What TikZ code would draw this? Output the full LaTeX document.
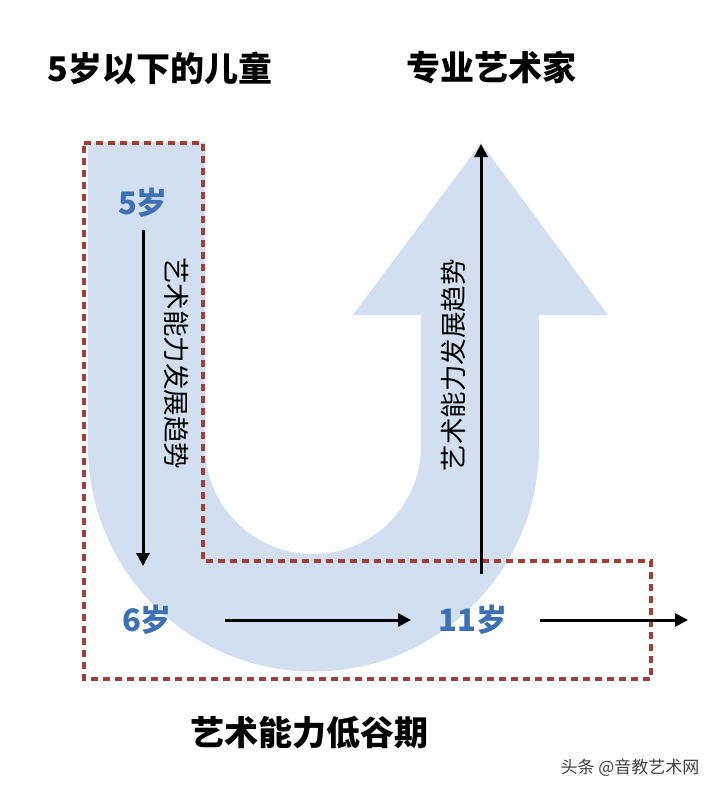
\documentclass[tikz,border=0pt]{standalone}
\usepackage{fontspec}
\setmainfont{Noto Sans CJK SC}
\usetikzlibrary{arrows.meta}
\definecolor{ushape}{RGB}{209,223,240}
\definecolor{agetext}{RGB}{62,112,182}
\definecolor{boxred}{RGB}{160,62,58}

\begin{document}
\begin{tikzpicture}[x=1pt,y=-1pt,
    trend/.style={line width=3pt,-{Triangle[length=13pt,width=13pt]}},
    age/.style={font=\fontsize{31}{31}\selectfont\bfseries,text=agetext},
    title/.style={font=\fontsize{34}{34}\selectfont\bfseries},
    side/.style={font=\fontsize{26.5}{26.5}\selectfont}]

  \useasboundingbox (0,0) rectangle (720,795);

  % U shaped arrow
  \fill[ushape] (88,142) -- (205,142) -- (205,446)
    arc[start angle=180,end angle=0,radius=108]
    -- (421,315) -- (353,315) -- (481,143) -- (608,315) -- (539,315) -- (539,446)
    arc[start angle=0,end angle=180,radius=225.5] -- cycle;

  % dashed frame
  \draw[boxred,line width=3.5pt,dash pattern=on 7pt off 5pt]
    (84,143) -- (203,143) -- (203,561) -- (651,561) -- (651,679) -- (84,679) -- cycle;

  \node[title] (kids)   at (160,68)  {5岁以下的儿童};
  \node[title] (artist) at (491,68)  {专业艺术家};
  \node[title] (trough) at (309,733) {艺术能力低谷期};

  \begin{scope}[every node/.style={age}]
    \node (five)   at (143,203) {5岁};
    \node (six)    at (147,620) {6岁};
    \node (eleven) at (473,620) {11岁};
  \end{scope}

  \node[side,rotate=-90] (falltrend) at (177,363) {艺术能力发展趋势};
  \node[side,rotate=90]  (risetrend) at (453,365) {艺术能力发展趋势};

  \node[font=\fontsize{17}{17}\selectfont,text=black!75] (mark) at (630,768) {头条 @音教艺术网};

  \coordinate (downtop) at (143,230);
  \coordinate (downend) at (143,566);
  \coordinate (uptop)   at (481,144);
  \coordinate (upend)   at (481,574);
  \coordinate (flatA)   at (225,620);
  \coordinate (flatB)   at (411,620);
  \coordinate (flatC)   at (540,620);
  \coordinate (flatD)   at (688,620);

  \begin{scope}[every edge/.style={draw,trend}]
    \path (downtop) edge (downend);
    \path (upend)   edge (uptop);
    \path (flatA)   edge (flatB);
    \path (flatC)   edge (flatD);
  \end{scope}

\end{tikzpicture}
\end{document}
